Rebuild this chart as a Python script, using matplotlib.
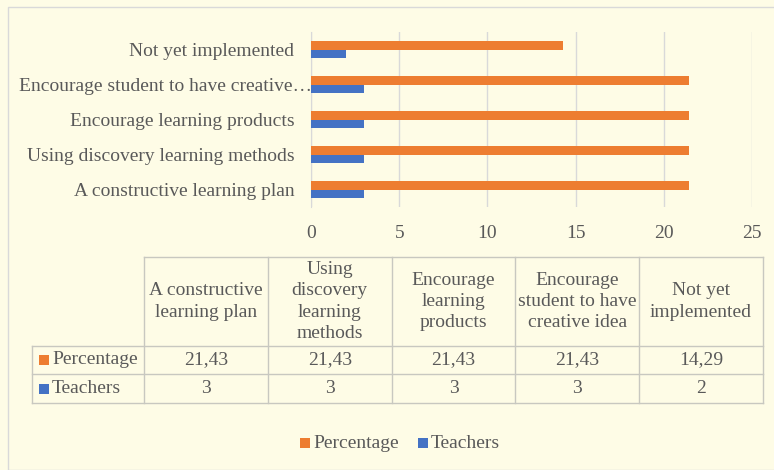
import numpy as np
import matplotlib
matplotlib.use('Agg')
import matplotlib.pyplot as plt
import matplotlib.transforms as mtransforms
from matplotlib.lines import Line2D
from matplotlib.patches import Rectangle

# ── data ──────────────────────────────────────────────────────────────────────

categories = [
    "A constructive learning plan",
    "Using discovery learning methods",
    "Encourage learning products",
    "Encourage student to have creative idea",
    "Not yet implemented",
]
axis_labels = [
    "A constructive learning plan",
    "Using discovery learning methods",
    "Encourage learning products",
    "Encourage student to have creative\u2026",
    "Not yet implemented",
]
header_labels = [
    "A constructive\nlearning plan",
    "Using\ndiscovery\nlearning\nmethods",
    "Encourage\nlearning\nproducts",
    "Encourage\nstudent to have\ncreative idea",
    "Not yet\nimplemented",
]
percentage = [21.43, 21.43, 21.43, 21.43, 14.29]
teachers = [3, 3, 3, 3, 2]
x_ticks = [0, 5, 10, 15, 20, 25]

# ── style ─────────────────────────────────────────────────────────────────────

W, H = 774, 470
ORANGE = '#ED7D31'
BLUE = '#4472C4'
TEXT = '#595959'
GRID = '#D9D9D9'
TABLE_LINE = '#C8C8C0'
BG = '#FEFCE6'
FS = 14

plt.rcParams['font.family'] = ['Liberation Serif', 'DejaVu Serif']

fig = plt.figure(figsize=(W / 100, H / 100), dpi=100)
fig.patch.set_facecolor(BG)


def fx(px):
    return px / W


def fy(py):
    return 1 - py / H


# chart border
fig.add_artist(Rectangle((fx(8), fy(470)), fx(800), 1 - 7 / H, transform=fig.transFigure,
                         facecolor='none', edgecolor='#D9D9D9', linewidth=1))

# ── bar chart ─────────────────────────────────────────────────────────────────

ax = fig.add_axes([fx(311), fy(207), fx(752) - fx(311), fy(32) - fy(207)])
ax.set_facecolor('none')
y = np.arange(len(categories))
h = 0.23
ax.barh(y + h / 2, percentage, height=h, color=ORANGE, zorder=3)
ax.barh(y - h / 2, teachers, height=h, color=BLUE, zorder=3)
ax.set_xlim(0, 25)
ax.set_ylim(-0.5, len(categories) - 0.5)
ax.set_xticks(x_ticks)
ax.set_yticks(y)
ax.set_yticklabels(axis_labels)
ax.grid(axis='x', color=GRID, linewidth=1, zorder=0)
ax.tick_params(length=0, labelsize=FS, colors=TEXT)
ax.tick_params(axis='x', pad=13)
ax.tick_params(axis='y', pad=12)
for name, sp in ax.spines.items():
    sp.set_visible(name == 'left')
ax.spines['left'].set_color(GRID)

# truncated label sits further right, running into the axis like Excel does
lab = ax.get_yticklabels()[3]
lab.set_transform(lab.get_transform() +
                  mtransforms.ScaledTranslation(18 / 100, 0, fig.dpi_scale_trans))

# ── data table ────────────────────────────────────────────────────────────────

col_x = np.linspace(144, 763, len(categories) + 1)
left_x = 32
y_head, y_r1, y_r2, y_bot = 257, 346, 374, 403


def hline(py, x0, x1):
    fig.add_artist(Line2D([fx(x0), fx(x1)], [fy(py), fy(py)], transform=fig.transFigure,
                          color=TABLE_LINE, linewidth=1))


def vline(px, y0, y1):
    fig.add_artist(Line2D([fx(px), fx(px)], [fy(y0), fy(y1)], transform=fig.transFigure,
                          color=TABLE_LINE, linewidth=1))


hline(y_head, col_x[0], col_x[-1])
for py in (y_r1, y_r2, y_bot):
    hline(py, left_x, col_x[-1])
vline(left_x, y_r1, y_bot)
for px in col_x:
    vline(px, y_head, y_bot)

for i, cat in enumerate(header_labels):
    cx = (col_x[i] + col_x[i + 1]) / 2
    fig.text(fx(cx), fy((y_head + y_r1) / 2), cat, ha='center', va='center',
             fontsize=FS, color=TEXT, linespacing=1.32)
    fig.text(fx(cx), fy((y_r1 + y_r2) / 2), f"{percentage[i]:.2f}".replace('.', ','),
             ha='center', va='center', fontsize=FS, color=TEXT)
    fig.text(fx(cx), fy((y_r2 + y_bot) / 2), f"{teachers[i]}",
             ha='center', va='center', fontsize=FS, color=TEXT)

for (label, color), (ya, yb) in zip([("Percentage", ORANGE), ("Teachers", BLUE)],
                                    [(y_r1, y_r2), (y_r2, y_bot)]):
    yc = (ya + yb) / 2
    fig.add_artist(Rectangle((fx(39), fy(yc + 5)), fx(10), 10 / H, transform=fig.transFigure,
                             facecolor=color, edgecolor='none'))
    fig.text(fx(52), fy(yc), label, ha='left', va='center', fontsize=FS, color=TEXT)

# ── legend ────────────────────────────────────────────────────────────────────

for label, color, sx in [("Percentage", ORANGE, 300), ("Teachers", BLUE, 418)]:
    fig.add_artist(Rectangle((fx(sx), fy(448)), fx(10), 10 / H, transform=fig.transFigure,
                             facecolor=color, edgecolor='none'))
    fig.text(fx(sx + 13), fy(443), label, ha='left', va='center', fontsize=FS, color=TEXT)

fig.savefig('out.png', dpi=100, facecolor=fig.get_facecolor())
